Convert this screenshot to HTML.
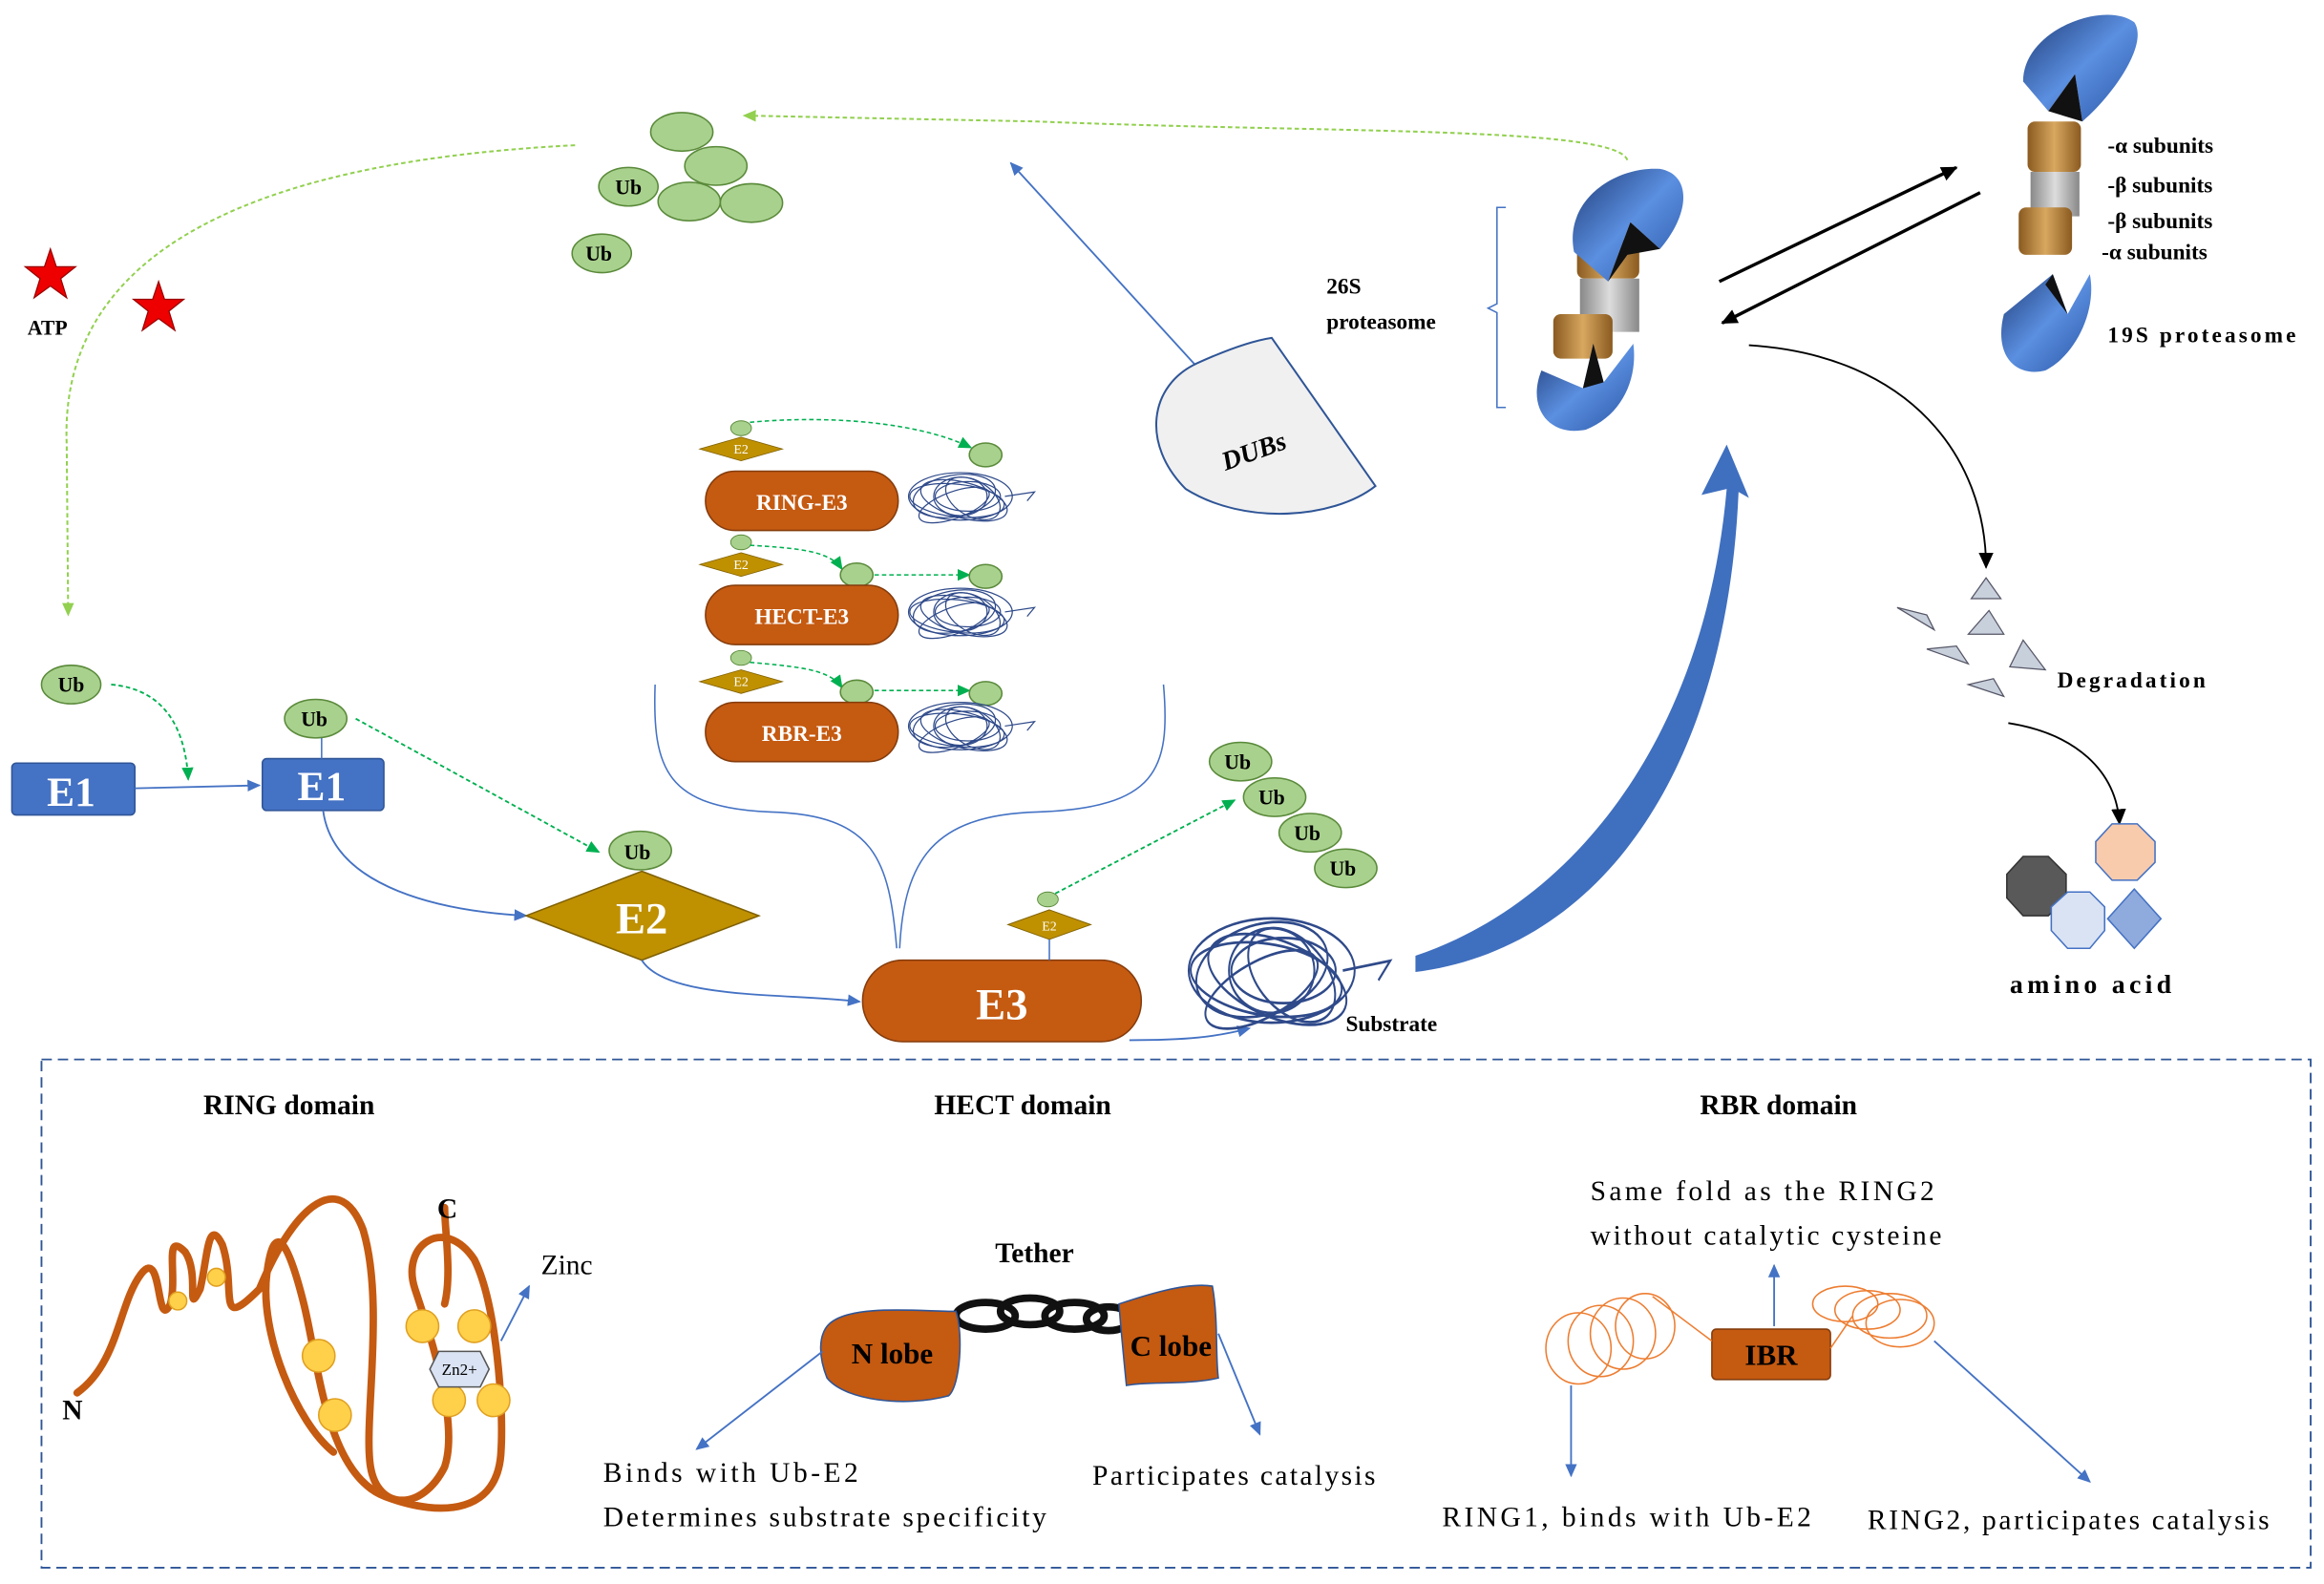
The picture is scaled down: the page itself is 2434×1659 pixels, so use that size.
<!DOCTYPE html>
<html><head><meta charset="utf-8"><style>
html,body{margin:0;padding:0;background:#fff;}
svg{display:block;}
text{font-family:"Liberation Serif",serif;}
</style></head><body>
<svg width="2434" height="1659" viewBox="0 0 1568 1069" preserveAspectRatio="none" xmlns="http://www.w3.org/2000/svg">
<defs>
<marker id="ab" markerWidth="10" markerHeight="10" refX="8" refY="5" orient="auto" markerUnits="userSpaceOnUse"><path d="M0,1 L9,5 L0,9 Z" fill="#4472c4"/></marker>
<marker id="ag" markerWidth="10" markerHeight="10" refX="8" refY="5" orient="auto" markerUnits="userSpaceOnUse"><path d="M0,1 L9,5 L0,9 Z" fill="#00b050"/></marker>
<marker id="agl" markerWidth="10" markerHeight="10" refX="8" refY="5" orient="auto" markerUnits="userSpaceOnUse"><path d="M0,1 L9,5 L0,9 Z" fill="#92d050"/></marker>
<marker id="ak" markerWidth="12" markerHeight="12" refX="10" refY="6" orient="auto" markerUnits="userSpaceOnUse"><path d="M0,1 L11,6 L0,11 Z" fill="#000"/></marker>
<linearGradient id="cap" x1="0" y1="0" x2="1" y2="1"><stop offset="0" stop-color="#1f3c78"/><stop offset="0.5" stop-color="#5b8fe0"/><stop offset="1" stop-color="#2a55a5"/></linearGradient>
<linearGradient id="brz" x1="0" y1="0" x2="1" y2="0"><stop offset="0" stop-color="#8a5a20"/><stop offset="0.5" stop-color="#d8a860"/><stop offset="1" stop-color="#8a5a20"/></linearGradient>
<linearGradient id="gry" x1="0" y1="0" x2="1" y2="0"><stop offset="0" stop-color="#888"/><stop offset="0.5" stop-color="#ddd"/><stop offset="1" stop-color="#888"/></linearGradient>
<g id="tangle" fill="none" stroke="#2f4a8a" stroke-width="0.8">
<ellipse cx="0" cy="0" rx="35" ry="16"/><ellipse cx="3" cy="2" rx="30" ry="12" transform="rotate(15)"/><ellipse cx="-4" cy="-1" rx="28" ry="14" transform="rotate(-10)"/><ellipse cx="5" cy="0" rx="22" ry="10"/><ellipse cx="-2" cy="3" rx="32" ry="11" transform="rotate(6)"/><ellipse cx="0" cy="0" rx="18" ry="13"/><ellipse cx="-6" cy="4" rx="25" ry="9" transform="rotate(-20)"/><ellipse cx="8" cy="-3" rx="20" ry="12" transform="rotate(30)"/><path d="M30,0 L50,-3 L45,3"/>
</g>
<g id="e2s"><path d="M0,-8 L28,0 L0,8 L-28,0Z" fill="#bf9000" stroke="#7f6000" stroke-width="0.5"/><text x="0" y="3" font-size="9" fill="#fff" text-anchor="middle">E2</text></g>
</defs>

<!-- Ub cluster -->
<g fill="#a9d18e" stroke="#5a8a3a" stroke-width="1">
<ellipse cx="460" cy="89" rx="21" ry="13"/><ellipse cx="483" cy="112" rx="21" ry="13"/><ellipse cx="465" cy="136" rx="21" ry="13"/><ellipse cx="507" cy="137" rx="21" ry="13"/>
<ellipse cx="424" cy="126" rx="20" ry="13"/><ellipse cx="406" cy="171" rx="20" ry="13"/>
</g>
<text x="424" y="131" font-size="14" font-weight="bold" text-anchor="middle">Ub</text>
<text x="404" y="176" font-size="14" font-weight="bold" text-anchor="middle">Ub</text>

<polygon points="34,168 38,180 51,180 41,188 45,201 34,193 23,201 27,188 17,180 30,180" fill="#e00" stroke="#900" stroke-width="0.8"/>
<polygon points="107,190 111,202 124,202 114,210 118,223 107,215 96,223 100,210 90,202 103,202" fill="#e00" stroke="#900" stroke-width="0.8"/>
<text x="32" y="226" font-size="14" font-weight="bold" text-anchor="middle">ATP</text>

<path d="M388,98 C150,110 40,180 45,300 L46,415" fill="none" stroke="#92d050" stroke-width="1.3" stroke-dasharray="3,2" marker-end="url(#agl)"/>
<path d="M1098,108 C1090,85 900,90 700,82 L502,78" fill="none" stroke="#92d050" stroke-width="1.3" stroke-dasharray="3,2" marker-end="url(#agl)"/>

<!-- DUBs -->
<line x1="808" y1="248" x2="682" y2="110" stroke="#4472c4" stroke-width="1.2" marker-end="url(#ab)"/>
<path d="M858,228 L928,328 C900,350 840,355 800,330 C770,300 775,260 808,245 C830,235 845,230 858,228Z" fill="#f0f0f0" stroke="#2f5597" stroke-width="1.3"/>
<text x="848" y="310" font-size="18" font-weight="bold" font-style="italic" text-anchor="middle" transform="rotate(-20 848 310)">DUBs</text>

<!-- 26S -->
<text x="895" y="198" font-size="15" font-weight="bold">26S</text>
<text x="895" y="222" font-size="15" font-weight="bold">proteasome</text>
<path d="M1016,140 L1010,140 L1010,205 L1004,208 L1010,211 L1010,275 L1016,275" fill="none" stroke="#4472c4" stroke-width="1"/>
<rect x="1064" y="162" width="42" height="26" rx="5" fill="url(#brz)"/>
<rect x="1066" y="188" width="40" height="36" fill="url(#gry)"/>
<rect x="1048" y="212" width="40" height="30" rx="5" fill="url(#brz)"/>
<path d="M1062,170 C1055,135 1090,112 1120,114 C1142,118 1140,145 1120,168 L1100,150 L1085,190 Z" fill="url(#cap)"/>
<path d="M1085,190 L1100,150 L1120,168 L1098,172Z" fill="#111"/>
<path d="M1040,250 C1030,275 1045,295 1070,290 C1095,280 1105,255 1102,232 L1082,258 L1075,232 L1068,262 Z" fill="url(#cap)"/>
<path d="M1068,262 L1075,232 L1082,258Z" fill="#111"/>

<line x1="1160" y1="190" x2="1320" y2="113" stroke="#000" stroke-width="2.2" marker-end="url(#ak)"/>
<line x1="1336" y1="130" x2="1162" y2="218" stroke="#000" stroke-width="2.2" marker-end="url(#ak)"/>

<!-- 19S / 20S right -->
<path d="M1365,55 C1365,20 1420,0 1440,15 C1450,30 1425,65 1405,82 L1400,50 L1382,75 Z" fill="url(#cap)"/>
<path d="M1382,75 L1400,50 L1405,82Z" fill="#111"/>
<rect x="1368" y="82" width="36" height="34" rx="5" fill="url(#brz)"/>
<rect x="1370" y="116" width="33" height="30" fill="url(#gry)"/>
<rect x="1362" y="140" width="36" height="32" rx="5" fill="url(#brz)"/>
<text x="1422" y="103" font-size="15" font-weight="bold">-α subunits</text>
<text x="1422" y="130" font-size="15" font-weight="bold">-β subunits</text>
<text x="1422" y="154" font-size="15" font-weight="bold">-β subunits</text>
<text x="1418" y="175" font-size="15" font-weight="bold">-α subunits</text>
<path d="M1352,212 C1345,240 1360,255 1380,250 C1400,240 1415,210 1410,185 L1395,212 L1385,185 Z" fill="url(#cap)"/>
<path d="M1380,192 L1395,212 L1385,185Z" fill="#111"/>
<text x="1422" y="231" font-size="15" font-weight="bold" textLength="127">19S proteasome</text>

<!-- degradation -->
<path d="M1180,233 C1290,240 1340,310 1340,383" fill="none" stroke="#000" stroke-width="1.2" marker-end="url(#ak)"/>
<g fill="#c8d0dc" stroke="#556" stroke-width="0.8">
<polygon points="1330,404 1350,404 1340,390"/><polygon points="1328,428 1352,428 1342,412"/><polygon points="1356,450 1380,452 1365,432"/>
<polygon points="1280,410 1305,425 1300,415"/><polygon points="1300,438 1328,448 1320,436"/><polygon points="1328,462 1352,470 1345,458"/>
</g>
<text x="1388" y="464" font-size="15" font-weight="bold" textLength="100">Degradation</text>
<path d="M1355,488 C1400,495 1428,520 1430,556" fill="none" stroke="#000" stroke-width="1.2" marker-end="url(#ak)"/>
<polygon points="1365,578 1382,578 1394,590 1394,606 1382,618 1365,618 1354,606 1354,590" fill="#595959" stroke="#333"/>
<polygon points="1395,602 1410,602 1420,612 1420,628 1410,640 1395,640 1384,628 1384,612" fill="#dae3f3" stroke="#4472c4"/>
<polygon points="1425,556 1442,556 1454,568 1454,582 1442,594 1425,594 1414,582 1414,568" fill="#f8cbad" stroke="#4472c4"/>
<polygon points="1440,600 1458,620 1440,640 1422,620" fill="#8faadc" stroke="#4472c4"/>
<text x="1356" y="670" font-size="18" font-weight="bold" textLength="109" lengthAdjust="spacing">amino acid</text>

<!-- E1 -->
<rect x="8" y="515" width="83" height="35" rx="3" fill="#4472c4" stroke="#2f5597"/>
<text x="48" y="544" font-size="28" font-weight="bold" fill="#fff" text-anchor="middle">E1</text>
<rect x="177" y="512" width="82" height="35" rx="3" fill="#4472c4" stroke="#2f5597"/>
<text x="217" y="540" font-size="28" font-weight="bold" fill="#fff" text-anchor="middle">E1</text>
<line x1="91" y1="532" x2="175" y2="530" stroke="#4472c4" stroke-width="1.2" marker-end="url(#ab)"/>
<ellipse cx="48" cy="462" rx="20" ry="13" fill="#a9d18e" stroke="#5a8a3a"/><text x="48" y="467" font-size="14" font-weight="bold" text-anchor="middle">Ub</text>
<path d="M75,462 C110,465 125,490 127,526" fill="none" stroke="#00b050" stroke-width="1.2" stroke-dasharray="3,2" marker-end="url(#ag)"/>
<ellipse cx="213" cy="485" rx="21" ry="13" fill="#a9d18e" stroke="#5a8a3a"/><text x="212" y="490" font-size="14" font-weight="bold" text-anchor="middle">Ub</text>
<line x1="217" y1="498" x2="217" y2="512" stroke="#4472c4"/>
<line x1="240" y1="485" x2="404" y2="575" stroke="#00b050" stroke-width="1.2" stroke-dasharray="3,2" marker-end="url(#ag)"/>
<path d="M218,547 C225,600 300,615 355,618" fill="none" stroke="#4472c4" stroke-width="1.2" marker-end="url(#ab)"/>

<!-- E2 -->
<ellipse cx="432" cy="574" rx="21" ry="13" fill="#a9d18e" stroke="#5a8a3a"/><text x="430" y="580" font-size="14" font-weight="bold" text-anchor="middle">Ub</text>
<path d="M433,588 L512,618 L433,648 L355,618Z" fill="#bf9000" stroke="#7f6000"/>
<text x="433" y="630" font-size="30" font-weight="bold" fill="#fff" text-anchor="middle">E2</text>
<path d="M433,648 C450,675 530,670 580,676" fill="none" stroke="#4472c4" stroke-width="1.2" marker-end="url(#ab)"/>

<!-- E3 -->
<rect x="582" y="648" width="188" height="55" rx="27" fill="#c55a11" stroke="#843c0c"/>
<text x="676" y="688" font-size="30" font-weight="bold" fill="#fff" text-anchor="middle">E3</text>
<path d="M762,702 C800,702 820,700 843,694" fill="none" stroke="#4472c4" stroke-width="1.2" marker-end="url(#ab)"/>
<path d="M442,462 C440,520 450,545 520,548 C590,550 600,580 605,640" fill="none" stroke="#4472c4" stroke-width="1"/>
<path d="M785,462 C790,520 780,545 700,548 C630,550 610,580 607,640" fill="none" stroke="#4472c4" stroke-width="1"/>

<!-- E3 types -->
<g>
<use href="#e2s" x="500" y="303"/><ellipse cx="500" cy="289" rx="7" ry="5" fill="#a9d18e" stroke="#5a8a3a" stroke-width="0.6"/>
<path d="M506,285 C560,280 620,285 655,302" fill="none" stroke="#00b050" stroke-width="1" stroke-dasharray="3,2" marker-end="url(#ag)"/>
<ellipse cx="665" cy="307" rx="11" ry="8" fill="#a9d18e" stroke="#5a8a3a"/>
<rect x="476" y="318" width="130" height="40" rx="20" fill="#c55a11" stroke="#843c0c"/>
<text x="541" y="344" font-size="15" font-weight="bold" fill="#fff" text-anchor="middle">RING-E3</text>
<use href="#tangle" x="648" y="335"/>

<use href="#e2s" x="500" y="381"/><ellipse cx="500" cy="366" rx="7" ry="5" fill="#a9d18e" stroke="#5a8a3a" stroke-width="0.6"/>
<path d="M506,368 C540,370 560,372 568,384" fill="none" stroke="#00b050" stroke-width="1" stroke-dasharray="3,2" marker-end="url(#ag)"/>
<ellipse cx="578" cy="388" rx="11" ry="8" fill="#a9d18e" stroke="#5a8a3a"/>
<line x1="590" y1="388" x2="654" y2="388" stroke="#00b050" stroke-width="1" stroke-dasharray="3,2" marker-end="url(#ag)"/>
<ellipse cx="665" cy="389" rx="11" ry="8" fill="#a9d18e" stroke="#5a8a3a"/>
<rect x="476" y="395" width="130" height="40" rx="20" fill="#c55a11" stroke="#843c0c"/>
<text x="541" y="421" font-size="15" font-weight="bold" fill="#fff" text-anchor="middle">HECT-E3</text>
<use href="#tangle" x="648" y="413"/>

<use href="#e2s" x="500" y="460"/><ellipse cx="500" cy="444" rx="7" ry="5" fill="#a9d18e" stroke="#5a8a3a" stroke-width="0.6"/>
<path d="M506,447 C540,450 560,452 568,464" fill="none" stroke="#00b050" stroke-width="1" stroke-dasharray="3,2" marker-end="url(#ag)"/>
<ellipse cx="578" cy="467" rx="11" ry="8" fill="#a9d18e" stroke="#5a8a3a"/>
<line x1="590" y1="466" x2="654" y2="466" stroke="#00b050" stroke-width="1" stroke-dasharray="3,2" marker-end="url(#ag)"/>
<ellipse cx="665" cy="468" rx="11" ry="8" fill="#a9d18e" stroke="#5a8a3a"/>
<rect x="476" y="474" width="130" height="40" rx="20" fill="#c55a11" stroke="#843c0c"/>
<text x="541" y="500" font-size="15" font-weight="bold" fill="#fff" text-anchor="middle">RBR-E3</text>
<use href="#tangle" x="648" y="490"/>
</g>

<path d="M708,614 L736,624 L708,634 L680,624Z" fill="#bf9000" stroke="#7f6000" stroke-width="0.6"/>
<text x="708" y="628" font-size="9" fill="#fff" text-anchor="middle">E2</text>
<ellipse cx="707" cy="607" rx="7" ry="5" fill="#a9d18e" stroke="#5a8a3a" stroke-width="0.6"/>
<line x1="708" y1="634" x2="708" y2="648" stroke="#4472c4"/>
<line x1="712" y1="603" x2="833" y2="540" stroke="#00b050" stroke-width="1.2" stroke-dasharray="3,2" marker-end="url(#ag)"/>

<g fill="#a9d18e" stroke="#5a8a3a">
<ellipse cx="837" cy="514" rx="21" ry="13"/><ellipse cx="860" cy="538" rx="21" ry="13"/><ellipse cx="884" cy="562" rx="21" ry="13"/><ellipse cx="908" cy="586" rx="21" ry="13"/>
</g>
<g font-size="14" font-weight="bold" text-anchor="middle">
<text x="835" y="519">Ub</text><text x="858" y="543">Ub</text><text x="882" y="567">Ub</text><text x="906" y="591">Ub</text></g>

<g transform="translate(858,655) scale(1.6,2.2)"><use href="#tangle"/></g>
<text x="908" y="696" font-size="15" font-weight="bold">Substrate</text>

<path d="M955,645 C1060,610 1150,500 1165,330 L1148,334 L1165,300 L1180,336 L1173,332 C1165,520 1080,640 955,656 Z" fill="#3f6fbf"/>

<!-- bottom dashed box -->
<rect x="28" y="715" width="1531" height="343" fill="none" stroke="#2f5597" stroke-width="1.2" stroke-dasharray="7,4"/>
<g font-size="19" font-weight="bold" text-anchor="middle">
<text x="195" y="752">RING domain</text><text x="690" y="752">HECT domain</text><text x="1200" y="752">RBR domain</text></g>

<!-- RING -->
<path d="M52,940 C80,920 80,880 95,860 C110,840 105,900 115,880 C120,860 110,830 125,845 C135,860 125,890 135,870 C140,850 140,820 150,840 C160,870 145,900 175,870 C200,810 230,790 245,830 C260,880 245,960 250,990 C255,1020 285,1020 300,990 C310,960 290,900 280,870 C270,840 300,820 320,850 C335,880 340,950 338,980 C336,1020 300,1025 260,1010 C220,995 215,920 205,880 C195,840 185,820 180,860 C175,900 200,960 225,980 M300,880 C305,860 300,830 300,815" fill="none" stroke="#c55a11" stroke-width="5" stroke-linecap="round"/>
<g fill="#ffd04a" stroke="#e0a020" stroke-width="1">
<circle cx="120" cy="878" r="6"/><circle cx="146" cy="862" r="6"/><circle cx="215" cy="915" r="11"/><circle cx="226" cy="955" r="11"/><circle cx="285" cy="895" r="11"/><circle cx="320" cy="895" r="11"/><circle cx="303" cy="945" r="11"/><circle cx="333" cy="945" r="11"/>
</g>
<polygon points="296,912 324,912 330,924 324,936 296,936 290,924" fill="#dae3f3" stroke="#555"/>
<text x="310" y="928" font-size="11" text-anchor="middle">Zn2+</text>
<line x1="338" y1="905" x2="357" y2="868" stroke="#4472c4" stroke-width="1.2" marker-end="url(#ab)"/>
<text x="365" y="860" font-size="19">Zinc</text>
<text x="295" y="822" font-size="19" font-weight="bold">C</text>
<text x="42" y="958" font-size="19" font-weight="bold">N</text>

<!-- HECT -->
<text x="698" y="852" font-size="19" font-weight="bold" text-anchor="middle">Tether</text>
<g fill="none" stroke="#111" stroke-width="5">
<ellipse cx="665" cy="888" rx="20" ry="9"/><ellipse cx="695" cy="885" rx="20" ry="9"/><ellipse cx="725" cy="888" rx="20" ry="9"/><ellipse cx="748" cy="890" rx="15" ry="8"/></g>
<path d="M560,893 C575,880 620,885 645,885 C650,900 648,935 640,942 C610,950 570,945 558,930 C552,915 552,900 560,893Z" fill="#c55a11" stroke="#2f5597" stroke-width="1"/>
<text x="602" y="920" font-size="20" font-weight="bold" text-anchor="middle">N lobe</text>
<path d="M755,880 C770,875 800,865 818,868 C822,890 820,915 822,930 C800,935 775,932 760,935 C758,915 756,895 755,880Z" fill="#c55a11" stroke="#2f5597" stroke-width="1"/>
<text x="790" y="915" font-size="20" font-weight="bold" text-anchor="middle">C lobe</text>
<line x1="555" y1="912" x2="470" y2="978" stroke="#4472c4" stroke-width="1.2" marker-end="url(#ab)"/>
<line x1="822" y1="900" x2="850" y2="968" stroke="#4472c4" stroke-width="1.2" marker-end="url(#ab)"/>
<text x="407" y="1000" font-size="19" textLength="172" lengthAdjust="spacing">Binds with Ub-E2</text>
<text x="407" y="1030" font-size="19" textLength="299" lengthAdjust="spacing">Determines substrate specificity</text>
<text x="737" y="1002" font-size="19" textLength="191" lengthAdjust="spacing">Participates catalysis</text>

<!-- RBR -->
<text x="1073" y="810" font-size="19" textLength="232" lengthAdjust="spacing">Same fold as the RING2</text>
<text x="1073" y="840" font-size="19" textLength="237" lengthAdjust="spacing">without catalytic cysteine</text>
<rect x="1155" y="897" width="80" height="34" rx="3" fill="#c55a11" stroke="#843c0c"/>
<text x="1195" y="921" font-size="20" font-weight="bold" text-anchor="middle">IBR</text>
<line x1="1197" y1="895" x2="1197" y2="854" stroke="#4472c4" stroke-width="1.2" marker-end="url(#ab)"/>
<g fill="none" stroke="#ed7d31" stroke-width="1">
<ellipse cx="1065" cy="910" rx="22" ry="24"/><ellipse cx="1080" cy="905" rx="22" ry="24"/><ellipse cx="1095" cy="900" rx="22" ry="24"/><ellipse cx="1110" cy="895" rx="20" ry="22"/>
<path d="M1115,875 L1155,905"/>
<ellipse cx="1245" cy="880" rx="22" ry="12"/><ellipse cx="1260" cy="884" rx="22" ry="13"/><ellipse cx="1275" cy="888" rx="25" ry="15"/><ellipse cx="1282" cy="893" rx="23" ry="16"/>
<path d="M1235,910 L1250,888"/>
</g>
<line x1="1060" y1="935" x2="1060" y2="996" stroke="#4472c4" stroke-width="1.2" marker-end="url(#ab)"/>
<line x1="1305" y1="905" x2="1410" y2="1000" stroke="#4472c4" stroke-width="1.2" marker-end="url(#ab)"/>
<text x="973" y="1030" font-size="19" textLength="249" lengthAdjust="spacing">RING1, binds with Ub-E2</text>
<text x="1260" y="1032" font-size="19" textLength="271" lengthAdjust="spacing">RING2, participates catalysis</text>
</svg>
</body></html>
